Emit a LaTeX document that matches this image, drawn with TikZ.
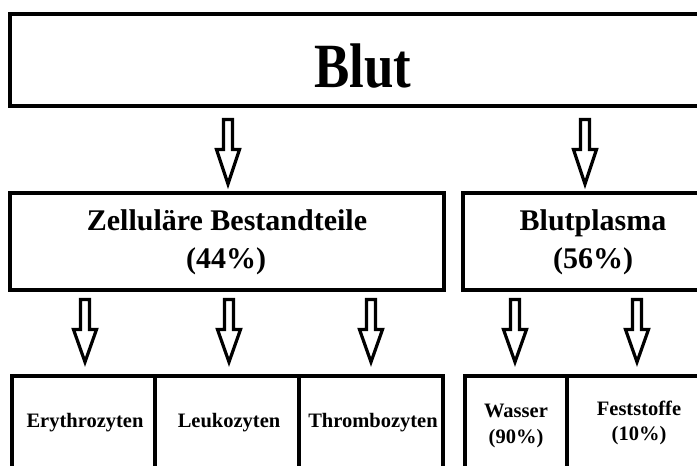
\documentclass[tikz,border=0pt]{standalone}
\usepackage{fontspec}
\setmainfont{Liberation Serif}
\usetikzlibrary{calc}
\tikzset{
  box/.style={draw, line width=3.5pt, rectangle, inner sep=0pt, outer sep=0pt},
  txt/.style={anchor=base, inner sep=0pt, font=\bfseries},
  fat/.style={draw, line width=3.2pt, fill=white, line join=miter, miter limit=10},
}
\newcommand\fatarrow[2]{%
  \draw[fat] let \p1=(#1), \p2=(#2) in
    (\x1-4.5pt,\y1) -- (\x1+4.5pt,\y1) -- (\x1+4.5pt,\y1-30pt) --
    (\x1+11.5pt,\y1-30pt) -- (\x1,\y2) -- (\x1-11.5pt,\y1-30pt) --
    (\x1-4.5pt,\y1-30pt) -- cycle;}
\begin{document}
\begin{tikzpicture}[x=1pt,y=-1pt]
\clip (0,0) rectangle (697,466);
\fill[white] (0,0) rectangle (697,466);
% boxes
\node[box, minimum width=710pt, minimum height=92pt] (blut) at (365,60) {};
\node[box, minimum width=434pt, minimum height=97pt] (zell) at (227,241.5) {};
\node[box, minimum width=270pt, minimum height=97pt] (plasma) at (598,241.5) {};
\node[box, minimum width=143pt, minimum height=110pt] (ery) at (83.5,431) {};
\node[box, minimum width=144pt, minimum height=110pt] (leu) at (227,431) {};
\node[box, minimum width=144pt, minimum height=110pt] (thr) at (371,431) {};
\node[box, minimum width=102pt, minimum height=110pt] (was) at (516,431) {};
\node[box, minimum width=153pt, minimum height=110pt] (fest) at (643.5,431) {};
% texts
\node[txt, font=\bfseries\fontsize{63}{70}\selectfont] (tblut) at (363,87) {\scalebox{0.84}[1]{Blut}};
\node[txt, font=\bfseries\fontsize{30}{34}\selectfont] (tzell) at (227,230) {Zelluläre Bestandteile};
\node[txt, font=\bfseries\fontsize{30}{34}\selectfont] (tzellp) at (226,268) {(44\%)};
\node[txt, font=\bfseries\fontsize{30}{34}\selectfont] (tplas) at (593,230) {Blutplasma};
\node[txt, font=\bfseries\fontsize{30}{34}\selectfont] (tplasp) at (593,268) {(56\%)};
\node[txt, font=\bfseries\fontsize{20.5}{24}\selectfont] (tery) at (85,427) {Erythrozyten};
\node[txt, font=\bfseries\fontsize{20.5}{24}\selectfont] (tleu) at (229,427) {Leukozyten};
\node[txt, font=\bfseries\fontsize{20.5}{24}\selectfont] (tthr) at (373,427) {Thrombozyten};
\node[txt, font=\bfseries\fontsize{20.5}{24}\selectfont] (twas) at (516,417) {Wasser};
\node[txt, font=\bfseries\fontsize{20.5}{24}\selectfont] (twasp) at (516,443) {(90\%)};
\node[txt, font=\bfseries\fontsize{20.5}{24}\selectfont] (tfest) at (639,415) {Feststoffe};
\node[txt, font=\bfseries\fontsize{20.5}{24}\selectfont] (tfestp) at (639,440) {(10\%)};
% arrow coordinates
\coordinate (a1s) at (228,119.5); \coordinate (a1e) at (228,184);
\coordinate (a2s) at (585,119.5); \coordinate (a2e) at (585,184);
\coordinate (b1s) at (85,299.5);  \coordinate (b1e) at (85,362);
\coordinate (b2s) at (229,299.5); \coordinate (b2e) at (229,362);
\coordinate (b3s) at (371,299.5); \coordinate (b3e) at (371,362);
\coordinate (b4s) at (515,299.5); \coordinate (b4e) at (515,362);
\coordinate (b5s) at (637,299.5); \coordinate (b5e) at (637,362);
\fatarrow{a1s}{a1e}
\fatarrow{a2s}{a2e}
\fatarrow{b1s}{b1e}
\fatarrow{b2s}{b2e}
\fatarrow{b3s}{b3e}
\fatarrow{b4s}{b4e}
\fatarrow{b5s}{b5e}
\end{tikzpicture}
\end{document}
